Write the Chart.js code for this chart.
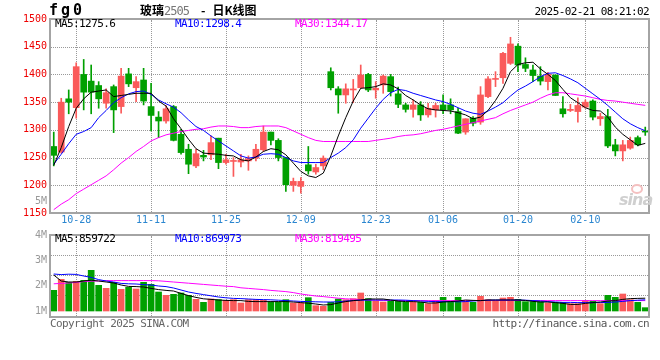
<!DOCTYPE html>
<html><head><meta charset="utf-8">
<script src="https://cdn.jsdelivr.net/npm/chart.js@4.4.1/dist/chart.umd.min.js"></script>
<style>
html,body{margin:0;padding:0;background:#fff;}
#wrap{position:relative;width:660px;height:360px;overflow:hidden;background:#fff;}
canvas{position:absolute;left:0;z-index:1;}
.gv{position:absolute;width:0;border-left:1px dotted #999;z-index:0;}
.gh{position:absolute;height:0;border-top:1px dotted #999;z-index:0;}
.t{position:absolute;z-index:2;white-space:nowrap;font-family:"DejaVu Sans Mono",monospace;font-size:11px;letter-spacing:-0.6px;line-height:12px;color:#000;}
</style></head><body>
<div id="wrap">
<canvas id="main" width="660" height="226" style="top:0"></canvas>
<canvas id="vol" width="660" height="110" style="top:220px"></canvas>
<div class="t" style="left:49px;top:2px;font-size:15px;font-weight:bold;letter-spacing:3px;line-height:16px">fg0</div>
<div class="t" style="left:140px;top:4px;font-family:'Noto Sans CJK SC';font-size:12px;font-weight:bold;letter-spacing:0">玻璃<span style="color:#777;font-family:'DejaVu Sans Mono';font-weight:normal;font-size:12px;letter-spacing:-1px">2505</span><span style="margin:0 7px 0 12px">-</span>日K线图</div>
<div class="t" style="right:11px;top:6px">2025-02-21 08:21:02</div>
<div class="t" style="left:55px;top:18px;color:#000">MA5:1275.6</div>
<div class="t" style="left:175px;top:18px;color:#0000ff">MA10:1298.4</div>
<div class="t" style="left:295px;top:18px;color:#ff00ff">MA30:1344.17</div>
<div class="t" style="left:55px;top:233px;color:#000">MA5:859722</div>
<div class="t" style="left:175px;top:233px;color:#0000ff">MA10:869973</div>
<div class="t" style="left:295px;top:233px;color:#ff00ff">MA30:819495</div>
<div class="t" style="right:613px;top:195px;font-size:10px;letter-spacing:0;color:#999">5M</div>
<div class="t" style="left:50px;top:318px;color:#666">Copyright 2025 SINA.COM</div>
<div class="t" style="right:11px;top:318px;color:#555">http://finance.sina.com.cn</div>
<div style="position:absolute;z-index:2;left:631px;top:184px;width:8px;height:6px;border:2px solid #f4c0c0;border-radius:50%"></div>
<div style="position:absolute;z-index:2;left:619px;top:190px;font:italic bold 16px 'DejaVu Sans';color:#cfcfcf;letter-spacing:-1px">sina</div>
</div>
<script>
// ---- data ----
const dates = ['10-23','10-24','10-25','10-28','10-29','10-30','10-31','11-01','11-04','11-05',
'11-06','11-07','11-08','11-11','11-12','11-13','11-14','11-15','11-18','11-19',
'11-20','11-21','11-22','11-25','11-26','11-27','11-28','11-29','12-02','12-03',
'12-04','12-05','12-06','12-09','12-10','12-11','12-12','12-13','12-16','12-17',
'12-18','12-19','12-20','12-23','12-24','12-25','12-26','12-27','12-30','12-31',
'01-02','01-03','01-06','01-07','01-08','01-09','01-10','01-13','01-14','01-15',
'01-16','01-17','01-20','01-21','01-22','01-23','01-24','01-27','02-05','02-06',
'02-07','02-10','02-11','02-12','02-13','02-14','02-17','02-18','02-19','02-20'];
const tickDates = ['10-28','11-11','11-25','12-09','12-23','01-06','01-20','02-10'];

const opens = [1270,1260,1356,1340,1400,1388,1380,1348,1378,1342,
1401,1376,1390,1342,1323,1316,1342,1292,1265,1235,
1254,1255,1285,1241,1243,1242,1244,1249,1264,1296,
1281,1250,1200,1198,1237,1224,1235,1405,1374,1363,
1372,1376,1400,1372,1381,1396,1365,1345,1337,1345,
1327,1336,1345,1345,1333,1296,1321,1314,1360,1391,
1394,1420,1451,1418,1408,1397,1387,1399,1338,1335,
1333,1341,1352,1320,1324,1273,1262,1267,1286,1298];
const highs = [1296,1357,1372,1421,1427,1417,1387,1374,1381,1411,
1411,1396,1411,1384,1333,1344,1344,1301,1274,1265,
1263,1289,1285,1256,1250,1256,1253,1274,1307,1296,
1284,1250,1213,1214,1270,1238,1253,1412,1378,1383,
1391,1417,1402,1387,1399,1400,1377,1348,1354,1351,
1348,1348,1363,1356,1339,1320,1324,1378,1396,1405,
1440,1467,1455,1430,1417,1414,1404,1399,1360,1346,
1358,1354,1354,1330,1337,1283,1281,1287,1289,1305];
const lows = [1235,1258,1329,1321,1336,1329,1339,1339,1295,1330,
1378,1351,1345,1298,1286,1312,1280,1256,1221,1232,
1244,1246,1230,1238,1216,1233,1227,1244,1261,1273,
1244,1189,1189,1186,1220,1220,1228,1372,1330,1348,
1349,1375,1369,1357,1366,1361,1340,1332,1323,1317,
1323,1323,1329,1329,1293,1292,1307,1310,1358,1378,
1384,1418,1405,1405,1387,1381,1372,1362,1323,1333,
1314,1339,1318,1308,1268,1253,1244,1265,1271,1290];
const closes = [1254,1350,1350,1414,1368,1368,1356,1367,1336,1397,
1383,1387,1352,1326,1316,1338,1281,1259,1238,1257,
1251,1277,1241,1246,1244,1246,1248,1265,1296,1281,
1250,1201,1207,1207,1226,1232,1249,1376,1363,1374,
1373,1399,1372,1375,1397,1369,1346,1337,1345,1327,
1339,1344,1336,1336,1294,1320,1312,1363,1392,1392,
1438,1455,1417,1411,1398,1388,1400,1362,1329,1337,
1344,1350,1323,1324,1271,1262,1273,1281,1273,1296];

const ma5 = [1236,1268,1306,1339,1356,1368,1370,1372,1360,1362,
1364,1366,1366,1366,1352,1343,1320,1302,1283,1266,
1258,1257,1256,1254,1253,1246,1244,1251,1261,1266,
1264,1255,1240,1225,1217,1214,1222,1253,1289,1322,
1352,1375,1376,1378,1383,1381,1374,1362,1354,1345,
1338,1336,1335,1334,1331,1327,1320,1323,1335,1353,
1375,1405,1418,1421,1422,1410,1400,1389,1373,1358,
1349,1340,1335,1334,1323,1305,1292,1282,1272,1275.6];
const ma10 = [1238,1256,1275,1292,1297,1304,1322,1335,1349,1358,
1365,1369,1370,1364,1354,1347,1341,1331,1318,1306,
1299,1289,1280,1271,1262,1253,1249,1251,1256,1257,
1256,1250,1244,1241,1241,1241,1241,1250,1258,1268,
1282,1303,1321,1339,1355,1367,1373,1371,1366,1362,
1358,1354,1351,1346,1340,1334,1330,1328,1334,1341,
1349,1361,1372,1379,1387,1396,1402,1403,1398,1392,
1385,1375,1365,1355,1344,1332,1320,1311,1304,1298.4];
const ma30 = [1156,1166,1174,1185,1193,1201,1209,1217,1228,1240,
1250,1261,1270,1280,1286,1291,1294,1297,1299,1301,
1302,1305,1307,1307,1306,1304,1304,1306,1307,1307,
1307,1304,1298,1292,1286,1281,1279,1279,1279,1279,
1279,1279,1279,1281,1283,1285,1288,1290,1291,1293,
1296,1299,1301,1304,1307,1310,1313,1316,1319,1322,
1329,1335,1340,1345,1350,1357,1363,1367,1367,1365,
1363,1361,1358,1355,1353,1352,1350,1348,1346,1344.17];

const volumes = [1233000,1783000,1633000,1683000,1733000,2233000,1483000,1333000,1633000,1283000,
1383000,1300000,1633000,1533000,1150000,983000,1033000,1100000,983000,783000,
633000,800000,767000,733000,767000,600000,767000,767000,733000,650000,
650000,767000,600000,600000,867000,467000,433000,633000,800000,767000,
817000,1100000,817000,700000,650000,683000,683000,633000,633000,633000,
567000,733000,883000,700000,883000,700000,633000,933000,767000,733000,
850000,883000,783000,667000,667000,667000,600000,633000,633000,567000,
567000,733000,683000,567000,983000,883000,1050000,767000,633000,367000];
const volMa5 = [2000000,1700000,1650000,1650000,1700000,1740000,1700000,1650000,1600000,1500000,
1430000,1420000,1400000,1330000,1270000,1230000,1200000,1080000,970000,880000,
810000,780000,750000,730000,720000,720000,680000,670000,670000,670000,
670000,670000,650000,620000,590000,550000,500000,520000,600000,670000,
720000,750000,800000,800000,800000,750000,700000,670000,670000,650000,
600000,600000,650000,670000,700000,750000,730000,720000,750000,750000,
750000,750000,750000,730000,680000,650000,650000,620000,580000,530000,
530000,580000,620000,650000,700000,720000,780000,820000,830000,840000];
const volMa10 = [2050000,2020000,2040000,2030000,1950000,1880000,1770000,1700000,1650000,1580000,
1560000,1550000,1520000,1500000,1450000,1420000,1350000,1250000,1150000,1080000,
1020000,960000,900000,860000,830000,820000,800000,780000,770000,760000,
740000,720000,700000,680000,670000,660000,650000,650000,660000,700000,
720000,740000,750000,750000,750000,750000,750000,740000,720000,700000,
680000,670000,670000,670000,660000,670000,700000,720000,740000,750000,
750000,750000,750000,740000,720000,700000,670000,650000,630000,630000,
620000,620000,620000,620000,630000,650000,680000,720000,740000,760000];
const volMa30 = [1560000,1580000,1600000,1630000,1670000,1690000,1700000,1720000,1720000,1720000,
1720000,1720000,1720000,1720000,1710000,1680000,1650000,1620000,1590000,1560000,
1530000,1500000,1470000,1440000,1420000,1360000,1330000,1300000,1270000,1230000,
1200000,1170000,1120000,1050000,1000000,950000,920000,880000,840000,810000,
790000,770000,750000,740000,730000,725000,720000,720000,720000,720000,
720000,720000,720000,720000,720000,720000,725000,725000,725000,725000,
725000,725000,725000,725000,725000,720000,720000,720000,720000,720000,
720000,720000,720000,720000,720000,720000,720000,720000,720000,720000];

const priceTicks = [1150,1200,1250,1300,1350,1400,1450,1500];
const volTickValues = [1000000,2000000,3000000,4000000];
const volTickLabels = ['1M','2M','3M','4M'];
const volGridValues = [1000000,2000000,3000000];

// ---- styles ----
const RED = '#fa5a5a', GREEN = '#00a000';
const candleColors = closes.map((c, i) => c >= opens[i] ? RED : GREEN);
Chart.defaults.font.family = "'DejaVu Sans Mono', monospace";
Chart.defaults.font.size = 10;

const frame = {
  id: 'frame',
  afterDraw(chart) {
    const ctx = chart.ctx, a = chart.chartArea;
    ctx.save();
    ctx.strokeStyle = '#a4a4a4';
    ctx.lineWidth = 2;
    ctx.strokeRect(a.left, a.top, a.right - a.left, a.bottom - a.top);
    ctx.restore();
  }
};

// dotted grid placed behind the (transparent) canvas, at pixels taken from the chart's scales
function addGrid(chart, canvasTop, yScaleId, gridValues) {
  const wrap = document.getElementById('wrap');
  const a = chart.chartArea, xs = chart.scales.x, ys = chart.scales[yScaleId];
  for (let i = 0; i < dates.length; i++) {
    if (tickDates.indexOf(dates[i]) < 0) continue;
    const el = document.createElement('div');
    el.className = 'gv';
    el.style.left = Math.round(xs.getPixelForValue(i)) + 'px';
    el.style.top = (canvasTop + Math.round(a.top) + 1) + 'px';
    el.style.height = (Math.round(a.bottom - a.top) - 2) + 'px';
    wrap.insertBefore(el, wrap.firstChild);
  }
  for (const v of gridValues) {
    const el = document.createElement('div');
    el.className = 'gh';
    el.style.top = (canvasTop + Math.round(ys.getPixelForValue(v))) + 'px';
    el.style.left = (Math.round(a.left) + 1) + 'px';
    el.style.width = (Math.round(a.right - a.left) - 2) + 'px';
    wrap.insertBefore(el, wrap.firstChild);
  }
}

const maLine = (label, data, color, yAxisID) => ({
  type: 'line', label, data, yAxisID, borderColor: color, borderWidth: 1,
  pointRadius: 0, tension: 0, fill: false, order: 0
});

const mainChart = new Chart(document.getElementById('main'), {
  type: 'bar',
  data: {
    labels: dates,
    datasets: [
      maLine('MA5', ma5, '#000000', 'y'),
      maLine('MA10', ma10, '#0000ff', 'y'),
      maLine('MA30', ma30, '#ff00ff', 'y'),
      { label: 'body', data: opens.map((o, i) => [o, closes[i]]), backgroundColor: candleColors,
        barThickness: 6, minBarLength: 1, grouped: false, order: 1, borderWidth: 0 },
      { label: 'wick', data: lows.map((l, i) => [l, highs[i]]), backgroundColor: candleColors,
        barThickness: 1, grouped: false, order: 2, borderWidth: 0 }
    ]
  },
  options: {
    responsive: false, animation: false, events: [],
    layout: { padding: { top: 19, right: 11, bottom: 0, left: 0 } },
    plugins: { legend: { display: false }, tooltip: { enabled: false }, title: { display: false } },
    scales: {
      x: {
        type: 'category', offset: true,
        grid: { display: false, drawTicks: false },
        border: { display: false },
        ticks: { autoSkip: false, maxRotation: 0, minRotation: 0, padding: 1, color: '#2a86d0',
          callback: (v, i) => tickDates.includes(dates[i]) ? dates[i] : '' },
        afterFit: s => { s.height = 13; }
      },
      y: {
        min: 1150, max: 1500,
        afterBuildTicks: s => { s.ticks = priceTicks.map(v => ({ value: v })); },
        grid: { display: false, drawTicks: false },
        border: { display: false },
        ticks: { color: '#ee0000', padding: 3, callback: v => String(v) },
        afterFit: s => { s.width = 50; }
      }
    }
  },
  plugins: [frame]
});

const volChart = new Chart(document.getElementById('vol'), {
  type: 'bar',
  data: {
    labels: dates,
    datasets: [
      maLine('MA5', volMa5, '#000000', 'yv'),
      maLine('MA10', volMa10, '#0000ff', 'yv'),
      maLine('MA30', volMa30, '#ff00ff', 'yv'),
      { label: 'vol', data: volumes, yAxisID: 'yv', backgroundColor: candleColors, base: 200000,
        barThickness: 6, grouped: false, order: 1, borderWidth: 0 }
    ]
  },
  options: {
    responsive: false, animation: false, events: [],
    layout: { padding: { top: 15, right: 11, bottom: 13, left: 0 } },
    plugins: { legend: { display: false }, tooltip: { enabled: false } },
    scales: {
      x: {
        type: 'category', offset: true,
        grid: { display: false, drawTicks: false },
        border: { display: false },
        ticks: { display: false, autoSkip: false },
        afterFit: s => { s.height = 0; }
      },
      yv: {
        position: 'left', min: -100000, max: 4000000,
        grid: { display: false, drawTicks: false },
        border: { display: false },
        ticks: { display: false },
        afterFit: s => { s.width = 0; }
      },
      yLab: {
        position: 'left', min: 763000, max: 4000000,
        afterBuildTicks: s => { s.ticks = volTickValues.map(v => ({ value: v })); },
        grid: { display: false, drawTicks: false },
        border: { display: false },
        ticks: { color: '#999999', padding: 3,
          callback: v => volTickLabels[volTickValues.indexOf(v)] },
        afterFit: s => { s.width = 50; }
      }
    }
  },
  plugins: [frame]
});

addGrid(mainChart, 0, 'y', priceTicks.slice(1, -1));
addGrid(volChart, 220, 'yv', volGridValues);
</script>
</body></html>
